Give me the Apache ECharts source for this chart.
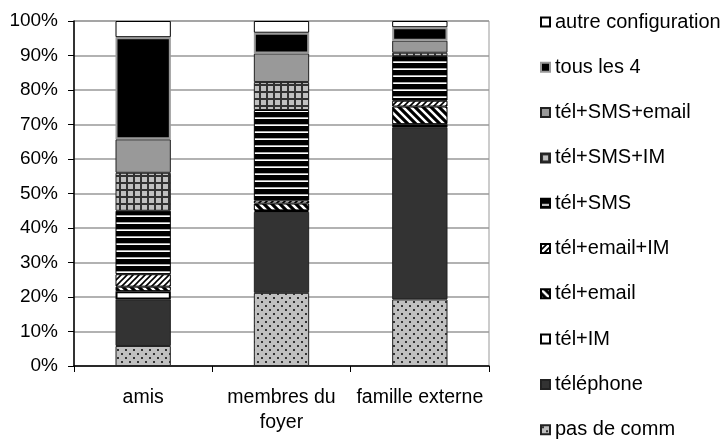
<!DOCTYPE html>
<html>
<head>
<meta charset="utf-8">
<script src="https://cdn.jsdelivr.net/npm/echarts@6/dist/echarts.min.js"></script>
<style>
html, body { margin: 0; padding: 0; background: #fff; }
#chart { width: 726px; height: 441px; }
</style>
</head>
<body>
<div id="chart"></div>
<script>
// categories (x axis)
const categories = ['amis', 'membres du\nfoyer', 'famille externe'];
const yTicks = [0, 10, 20, 30, 40, 50, 60, 70, 80, 90, 100];

// stacked shares in %, from bottom to top
const pasDeComm     = [5.8, 21.2, 19.3];
const telephone     = [13.5, 23.5, 49.9];
const telIM         = [2.4, 0.4, 0.9];
const telEmail      = [1.3, 2.0, 5.1];
const telEmailIM    = [3.6, 0.9, 1.7];
const telSMS        = [18.4, 26.2, 12.9];
const telSMSIM      = [11.0, 8.1, 1.0];
const telSMSEmail   = [9.7, 8.3, 3.5];
const tousLes4      = [29.6, 6.0, 3.9];
const autreConfig   = [4.7, 3.4, 1.8];

// small canvas tiles for the fill patterns
function tile(w, h, draw) {
    const c = document.createElement('canvas');
    c.width = w; c.height = h;
    draw(c.getContext('2d'));
    return { image: c, repeat: 'repeat' };
}
const dots = tile(8, 8, g => {
    g.fillStyle = '#c0c0c0'; g.fillRect(0, 0, 8, 8);
    g.fillStyle = '#333'; g.fillRect(1, 1, 2, 2); g.fillRect(5, 5, 2, 2);
});
const grid = tile(7, 7, g => {
    g.fillStyle = '#c0c0c0'; g.fillRect(0, 0, 7, 7);
    g.fillStyle = '#333'; g.fillRect(0, 0, 2, 7); g.fillRect(0, 0, 7, 2);
});
const hStripes = tile(8, 7, g => {
    g.fillStyle = '#000'; g.fillRect(0, 0, 8, 7);
    g.fillStyle = '#aaa'; g.fillRect(0, 5, 8, 1);
    g.fillStyle = '#fff'; g.fillRect(0, 6, 8, 1);
});
const fwdHatch = tile(6, 6, g => {
    g.fillStyle = '#fff'; g.fillRect(0, 0, 6, 6);
    g.strokeStyle = '#000'; g.lineWidth = 1.6;
    g.beginPath();
    g.moveTo(-1, 7); g.lineTo(7, -1);
    g.moveTo(-4, 4); g.lineTo(4, -4);
    g.moveTo(2, 10); g.lineTo(10, 2);
    g.stroke();
});
const backHatch = tile(8, 8, g => {
    g.fillStyle = '#000'; g.fillRect(0, 0, 8, 8);
    g.strokeStyle = '#fff'; g.lineWidth = 2.5;
    g.beginPath();
    g.moveTo(-1, -1); g.lineTo(9, 9);
    g.moveTo(-5, 3); g.lineTo(5, 13);
    g.moveTo(3, -5); g.lineTo(13, 5);
    g.stroke();
});

const seriesDefs = [
    { name: 'pas de comm', data: pasDeComm, color: dots, border: '#222', bw: 1 },
    { name: 'téléphone', data: telephone, color: '#333333', border: '#222', bw: 1 },
    { name: 'tél+IM', data: telIM, color: '#ffffff', border: '#000', bw: 2 },
    { name: 'tél+email', data: telEmail, color: backHatch, border: '#000', bw: 1 },
    { name: 'tél+email+IM', data: telEmailIM, color: fwdHatch, border: '#000', bw: 1 },
    { name: 'tél+SMS', data: telSMS, color: hStripes, border: '#000', bw: 1 },
    { name: 'tél+SMS+IM', data: telSMSIM, color: grid, border: '#222', bw: 1 },
    { name: 'tél+SMS+email', data: telSMSEmail, color: '#999999', border: '#222', bw: 1 },
    { name: 'tous les 4', data: tousLes4, color: '#000000', border: '#999', bw: 2 },
    { name: 'autre configuration', data: autreConfig, color: '#ffffff', border: '#000', bw: 1 }
];

const chart = echarts.init(document.getElementById('chart'));
const font = 'Liberation Sans, Arial, sans-serif';

const option = {
    backgroundColor: '#fff',
    animation: false,
    grid: {
        left: 74, right: 237, top: 21, bottom: 75,
        show: true, borderColor: '#999', borderWidth: 1
    },
    legend: {
        orient: 'vertical',
        left: 540, top: 12, bottom: -40,
        padding: 0,
        itemWidth: 9, itemHeight: 9,
        itemGap: 25.3,
        icon: 'rect',
        data: seriesDefs.map(s => s.name).reverse(),
        textStyle: { fontFamily: font, fontSize: 20, color: '#000', lineHeight: 20 }
    },
    xAxis: {
        type: 'category',
        data: categories,
        axisLine: { lineStyle: { color: '#000', width: 1.5 } },
        axisTick: { show: true, length: 6, lineStyle: { color: '#000' } },
        axisLabel: { interval: 0, fontFamily: font, fontSize: 19.5, color: '#000', margin: 19, lineHeight: 25 },
        splitLine: { show: false }
    },
    yAxis: {
        type: 'value',
        min: 0, max: 100, interval: 10,
        axisLine: { show: true, lineStyle: { color: '#000', width: 1.5 } },
        axisTick: { show: true, length: 6, lineStyle: { color: '#000' } },
        axisLabel: {
            fontFamily: font, fontSize: 19, color: '#000', margin: 16,
            formatter: v => (yTicks.indexOf(v) >= 0 ? v + '%' : '')
        },
        splitLine: { lineStyle: { color: '#999', width: 1.5 } }
    },
    series: seriesDefs.map(s => ({
        name: s.name,
        type: 'bar',
        stack: 'total',
        barWidth: '40%',
        data: s.data,
        itemStyle: { color: s.color, borderColor: s.border, borderWidth: s.bw }
    }))
};
chart.setOption(option);
</script>
</body>
</html>
